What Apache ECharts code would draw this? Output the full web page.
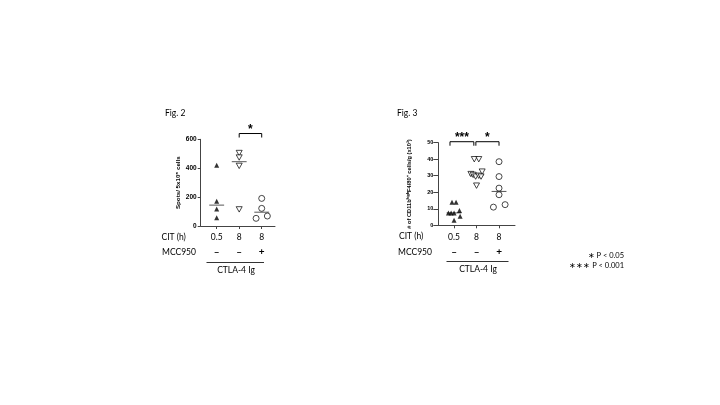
<!DOCTYPE html>
<html><head><meta charset="utf-8">
<script src="https://cdn.jsdelivr.net/npm/echarts@6/dist/echarts.min.js"></script>
<style>html,body{margin:0;padding:0;background:#fff}#c{width:720px;height:405px}</style>
</head><body><div id="c"></div>
<script>
// ---- data ----
const citLabels = ['0.5', '8', '8'];
const mccLabels = ['\u2013', '\u2013', '+'];
const groupPositions = [1, 2, 3];

const fig2Group1 = [420, 172, 117, 57];
const fig2Group1Jitter = [0, 0, 0, 0];
const fig2Group2 = [505, 474, 416, 115];
const fig2Group2Jitter = [0, 0, 0, 0];
const fig2Group3 = [191, 122, 53, 69];
const fig2Group3Jitter = [0, 0, -0.25, 0.25];
const fig2Sig = [[2, 3, 640, '*']];

const fig3Group1 = [14, 14, 7.5, 7.5, 7.5, 9, 5.5, 3];
const fig3Group1Jitter = [-0.09, 0.09, -0.25, -0.13, 0, 0.24, 0.27, 0];
const fig3Group2 = [40, 40, 31, 30.5, 29.5, 30, 32.5, 29.5, 24];
const fig3Group2Jitter = [-0.1, 0.1, -0.25, -0.15, -0.04, 0.1, 0.25, 0.2, 0];
const fig3Group3 = [38.5, 29.5, 22.5, 18.5, 11, 12.5];
const fig3Group3Jitter = [0, 0, 0, 0, -0.25, 0.27];
const fig3Sig = [[0.82, 1.88, 50.6, '***'], [1.97, 3.0, 50.6, '*']];

// ---- helpers ----
function pts(vals, jit, g) { return vals.map((v, i) => [g + jit[i], v]); }
function median(a) {
  const s = a.slice().sort((x, y) => x - y), n = s.length;
  return n % 2 ? s[(n - 1) / 2] : (s[n / 2 - 1] + s[n / 2]) / 2;
}
const FONT = 'Lato, "Noto Sans", sans-serif';
const TICKFONT = '"Liberation Sans", Arial, sans-serif';
const downTri = 'path://M0,0 L10,0 L5,9 Z';

function medianSeries(idx, groups) {
  return {
    type: 'custom', xAxisIndex: idx * 2, yAxisIndex: idx, silent: true, clip: false,
    data: groups.map((g, i) => [groupPositions[i], median(g)]),
    renderItem: (params, api) => {
      const x = api.value(0), y = api.value(1);
      const a = api.coord([x - 0.33, y]), b = api.coord([x + 0.33, y]);
      return { type: 'line', shape: { x1: a[0], y1: a[1], x2: b[0], y2: b[1] },
        style: { stroke: '#555', lineWidth: 1 } };
    }
  };
}
function sigSeries(idx, sig) {
  return {
    type: 'custom', xAxisIndex: idx * 2, yAxisIndex: idx, silent: true, clip: false,
    data: sig.map(s => [s[0], s[1], s[2]]),
    renderItem: (params, api) => {
      const a = api.coord([api.value(0), api.value(2)]);
      const b = api.coord([api.value(1), api.value(2)]);
      const lbl = sig[params.dataIndex][3];
      return { type: 'group', children: [
        { type: 'polyline', shape: { points: [[a[0], a[1] + 4], [a[0], a[1]], [b[0], a[1]], [b[0], a[1] + 4]] },
          style: { stroke: '#000', lineWidth: 1, fill: null } },
        { type: 'text', x: (a[0] + b[0]) / 2, y: a[1] - 4,
          style: { text: lbl, fontSize: 12, fontWeight: 'bold', fill: '#000', align: 'center', verticalAlign: 'middle', fontFamily: TICKFONT } }
      ] };
    }
  };
}
function scatter(idx, data, symbol, filled, size) {
  return {
    type: 'scatter', xAxisIndex: idx * 2, yAxisIndex: idx, data, symbol, symbolSize: size,
    itemStyle: filled ? { color: '#000' } : { color: '#fff', borderColor: '#000', borderWidth: 0.9 },
    z: 3
  };
}
function xAxes(gridIndex, min, max) {
  return [{
    type: 'value', gridIndex, min, max, splitLine: { show: false },
    axisLine: { show: true, lineStyle: { color: '#444', width: 1 } },
    axisTick: { show: true, customValues: groupPositions, length: 3, lineStyle: { color: '#444' } },
    axisLabel: { customValues: groupPositions, formatter: v => citLabels[Math.round(v) - 1], fontSize: 8.5, color: '#000', fontFamily: FONT, margin: 7 }
  }, {
    type: 'value', gridIndex, min, max, position: 'bottom', offset: 15, splitLine: { show: false },
    axisLine: { show: false }, axisTick: { show: false },
    axisLabel: { customValues: groupPositions, formatter: v => mccLabels[Math.round(v) - 1], fontSize: 10, fontWeight: 'bold', color: '#000', fontFamily: FONT, margin: 6 }
  }];
}
function yAxis(gridIndex, max, interval, name, gap, margin, tickLen, fs, nfs) {
  return {
    type: 'value', gridIndex, min: 0, max, interval, splitLine: { show: false },
    axisLine: { show: true, lineStyle: { color: '#444', width: 1 } },
    axisTick: { show: true, length: tickLen, lineStyle: { color: '#444' } },
    axisLabel: { fontSize: fs, fontWeight: 'bold', color: '#000', fontFamily: TICKFONT, margin },
    name, nameLocation: 'middle', nameGap: gap, nameRotate: 90,
    nameTextStyle: { fontSize: nfs, fontWeight: 'bold', color: '#000', fontFamily: TICKFONT }
  };
}
function txt(x, y, t, fs, align) {
  return { type: 'text', x, y, style: { text: t, fontSize: fs || 8.5, fill: '#000', fontFamily: FONT, align: align || 'left', verticalAlign: 'middle' } };
}

const chart = echarts.init(document.getElementById('c'), null, { renderer: 'canvas' });
chart.setOption({
  animation: false,
  backgroundColor: '#fff',
  grid: [
    { left: 200.7, top: 139.3, width: 74.3, height: 86.7 },
    { left: 438.3, top: 142.7, width: 76.7, height: 82.6 }
  ],
  xAxis: [...xAxes(0, 0.29, 3.59), ...xAxes(1, 0.30, 3.71)],
  yAxis: [
    yAxis(0, 600, 200, 'Spots/ 5x10\u2075 cells', 19.5, 4, 3, 6.5, 6.2),
    yAxis(1, 50, 10, '# of CD11b\u02B0\u2071\u1D4D\u02B0F4/80\u207A cells/g (x10\u00B3)', 26, 5, 5, 5.5, 5.7)
  ],
  series: [
    scatter(0, pts(fig2Group1, fig2Group1Jitter, 1), 'triangle', true, [5, 5]),
    scatter(0, pts(fig2Group2, fig2Group2Jitter, 2), downTri, false, [6, 5.4]),
    scatter(0, pts(fig2Group3, fig2Group3Jitter, 3), 'circle', false, 6),
    medianSeries(0, [fig2Group1, fig2Group2, fig2Group3]),
    sigSeries(0, fig2Sig),
    scatter(1, pts(fig3Group1, fig3Group1Jitter, 1), 'triangle', true, [5, 5]),
    scatter(1, pts(fig3Group2, fig3Group2Jitter, 2), downTri, false, [6, 5.4]),
    scatter(1, pts(fig3Group3, fig3Group3Jitter, 3), 'circle', false, 6),
    medianSeries(1, [fig3Group1, fig3Group2, fig3Group3]),
    sigSeries(1, fig3Sig)
  ],
  graphic: [
    txt(165, 113, 'Fig. 2', 8.5),
    txt(161.5, 237, 'CIT (h)', 8.5),
    txt(162, 252.5, 'MCC950', 8.5),
    { type: 'line', shape: { x1: 206.5, y1: 262.5, x2: 264, y2: 262.5 }, style: { stroke: '#333', lineWidth: 1 } },
    txt(236, 270.5, 'CTLA-4 Ig', 8.5, 'center'),
    txt(397, 113, 'Fig. 3', 8.5),
    txt(399, 236.7, 'CIT (h)', 8.5),
    txt(398, 252.3, 'MCC950', 8.5),
    { type: 'line', shape: { x1: 446.5, y1: 261.5, x2: 508.5, y2: 261.5 }, style: { stroke: '#333', lineWidth: 1 } },
    txt(478, 269, 'CTLA-4 Ig', 8.5, 'center'),
    txt(624, 256, '\u2217 P < 0.05', 7.5, 'right'),
    txt(624, 265.5, '\u2217\u2217\u2217 P < 0.001', 7.5, 'right')
  ]
});
</script></body></html>
